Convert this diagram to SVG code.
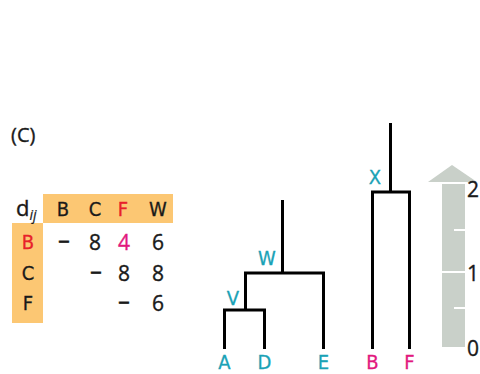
<svg xmlns="http://www.w3.org/2000/svg" width="480" height="374" viewBox="0 0 480 374">
  <style>
    .txt { font-family: "Open Sans", "Liberation Sans", sans-serif; fill: #1a1a1a; stroke: #1a1a1a; stroke-width: 0.35; }
    .lbl { font-family: "DejaVu Sans Condensed", "Open Sans", sans-serif; font-size: 20px; text-anchor: middle; dominant-baseline: central; stroke-width: 0.3; }
    .hdr { font-family: "DejaVu Sans Condensed", "Open Sans", sans-serif; font-size: 20px; text-anchor: middle; dominant-baseline: central; fill: #1a1a1a; stroke: #1a1a1a; stroke-width: 0.3; }
    .cell { font-family: "Open Sans", "Liberation Sans", sans-serif; font-size: 21px; text-anchor: middle; dominant-baseline: central; fill: #1a1a1a; stroke: #1a1a1a; stroke-width: 0.35; }
    .dash { font-size: 20px; stroke-width: 0.9; }
    text.teal { fill: #1aa2b6; stroke: #1aa2b6; }
    text.pink { fill: #e2187e; stroke: #e2187e; }
    text.red { fill: #e8202a; stroke: #e8202a; }
    .branch { fill: none; stroke: #000; stroke-width: 3; stroke-linecap: butt; stroke-linejoin: miter; }
    .band { fill: #fcc773; }
    .scale { fill: #c9d0c9; }
    .tick { stroke: #fff; stroke-width: 2; }
  </style>
  <rect width="480" height="374" fill="#fff"/>

  <text class="txt" x="11" y="142" font-size="20">(C)</text>

  <!-- distance matrix -->
  <g id="matrix">
    <rect class="band" x="43" y="194" width="130" height="29"/>
    <rect class="band" x="12" y="223" width="31" height="100"/>
    <text class="txt" x="16" y="216" font-size="22">d<tspan font-size="14" font-style="italic" dy="4" stroke-width="0.2">ij</tspan></text>
    <text class="hdr" x="63" y="209">B</text>
    <text class="hdr" x="95" y="209">C</text>
    <text class="hdr red" x="123" y="209">F</text>
    <text class="hdr" x="158" y="209">W</text>
    <text class="hdr red" x="28" y="242">B</text>
    <text class="hdr" x="28" y="273">C</text>
    <text class="hdr" x="28" y="303">F</text>
    <text class="cell dash" x="64" y="241">−</text>
    <text class="cell" x="95" y="242">8</text>
    <text class="cell pink" x="124" y="242">4</text>
    <text class="cell" x="158" y="242">6</text>
    <text class="cell dash" x="96" y="272">−</text>
    <text class="cell" x="124" y="273">8</text>
    <text class="cell" x="158" y="273">8</text>
    <text class="cell dash" x="124" y="302">−</text>
    <text class="cell" x="158" y="303">6</text>
  </g>

  <!-- tree branches -->
  <g id="connectors">
    <path class="branch" d="M224.5,349 V310 H264.5 V349"/>
    <path class="branch" d="M245.5,310 V273 H323.5 V349"/>
    <path class="branch" d="M282.5,273 V200"/>
    <path class="branch" d="M372.5,349 V192 H409.5 V349"/>
    <path class="branch" d="M390.5,192 V123"/>
  </g>

  <g id="node-A"><text class="lbl teal" x="224.5" y="362">A</text></g>
  <g id="node-D"><text class="lbl teal" x="264.5" y="362">D</text></g>
  <g id="node-E"><text class="lbl teal" x="323.5" y="362">E</text></g>
  <g id="node-B"><text class="lbl pink" x="372.5" y="362">B</text></g>
  <g id="node-F"><text class="lbl pink" x="409.5" y="362">F</text></g>
  <g id="node-V"><text class="lbl teal" x="233" y="298">V</text></g>
  <g id="node-W"><text class="lbl teal" x="267" y="258">W</text></g>
  <g id="node-X"><text class="lbl teal" x="375" y="177">X</text></g>

  <!-- time scale -->
  <g id="scale">
    <polygon class="scale" points="428,182 452,165 477,182"/>
    <rect class="scale" x="442" y="184" width="23" height="87"/>
    <rect class="scale" x="442" y="273" width="23" height="74"/>
    <line class="tick" x1="454" y1="230" x2="465" y2="230"/>
    <line class="tick" x1="454" y1="308" x2="465" y2="308"/>
    <text class="txt" x="467" y="197" font-size="21">2</text>
    <text class="txt" x="467" y="281" font-size="21">1</text>
    <text class="txt" x="467" y="356" font-size="21">0</text>
  </g>
</svg>
